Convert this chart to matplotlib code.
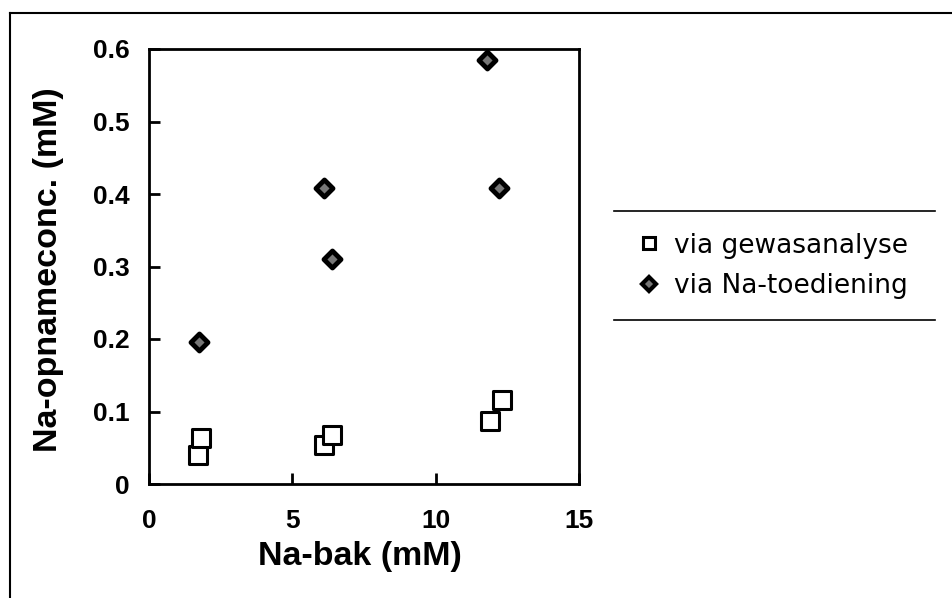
import matplotlib.pyplot as plt
from matplotlib.lines import Line2D

# Na-opname: gemeten via gewasanalyse en berekend via Na-toediening
na_bak_gewas = [1.7, 1.8, 6.1, 6.4, 11.9, 12.3]
opname_gewas = [0.040, 0.064, 0.054, 0.068, 0.087, 0.116]
na_bak_toed = [1.75, 6.1, 6.4, 11.8, 12.2]
opname_toed = [0.196, 0.408, 0.311, 0.585, 0.408]

x_ticks = [0, 5, 10, 15]
y_ticks = [0, 0.1, 0.2, 0.3, 0.4, 0.5, 0.6]
y_ticklabels = ["0", "0.1", "0.2", "0.3", "0.4", "0.5", "0.6"]

plt.rcParams["font.family"] = ["Liberation Sans", "DejaVu Sans"]

fig = plt.figure(figsize=(9.53, 5.98), dpi=100)
ax = fig.add_axes([149/953, 1-484/598, 430/953, 435/598])

ax.scatter(na_bak_gewas, opname_gewas, marker="s", s=150, facecolors="white",
           edgecolors="black", linewidths=2.2, zorder=3)
ax.scatter(na_bak_toed, opname_toed, marker="D", s=75, facecolors="#777777",
           edgecolors="black", linewidths=3.5, zorder=3)

ax.set_xlim(0, 15)
ax.set_ylim(0, 0.6)
ax.set_xticks(x_ticks)
ax.set_yticks(y_ticks)
ax.set_yticklabels(y_ticklabels)
ax.tick_params(direction="in", length=8, width=2)
ax.tick_params(axis="x", labelsize=19, pad=18)
ax.tick_params(axis="y", labelsize=19, pad=14)
for lbl in ax.get_xticklabels() + ax.get_yticklabels():
    lbl.set_fontweight("bold")
for sp in ax.spines.values():
    sp.set_linewidth(2)

ax.set_xlabel("Na-bak (mM)", fontsize=24.5, fontweight="bold")
ax.xaxis.set_label_coords(0.491, -0.132)
ax.set_ylabel("Na-opnameconc. (mM)", fontsize=24.5, fontweight="bold")
ax.yaxis.set_label_coords(-0.198, 0.492)

# legenda met alleen een lijn boven en onder
handles = [
    Line2D([], [], marker="s", ls="none", ms=9, mfc="white", mec="black", mew=2.2),
    Line2D([], [], marker="D", ls="none", ms=7, mfc="#777777", mec="black", mew=3),
]
leg = fig.legend(handles, ["via gewasanalyse", "via Na-toediening"],
                 loc="upper left", bbox_to_anchor=(628/953, 1-222/598),
                 frameon=False, handletextpad=0.55, prop={"family": "DejaVu Sans", "size": 19},
                 handlelength=0.8, labelspacing=0.55, borderaxespad=0)
fig.add_artist(Line2D([614/953, 935/953], [1-211/598, 1-211/598], color="black", lw=1.2))
fig.add_artist(Line2D([614/953, 935/953], [1-320/598, 1-320/598], color="black", lw=1.2))

# kader om de figuur
fig.add_artist(Line2D([10/953, 10/953], [0, 1-13/598], color="black", lw=1.5))
fig.add_artist(Line2D([10/953, 1], [1-13/598, 1-13/598], color="black", lw=1.5))

fig.savefig("out.png", dpi=100)
